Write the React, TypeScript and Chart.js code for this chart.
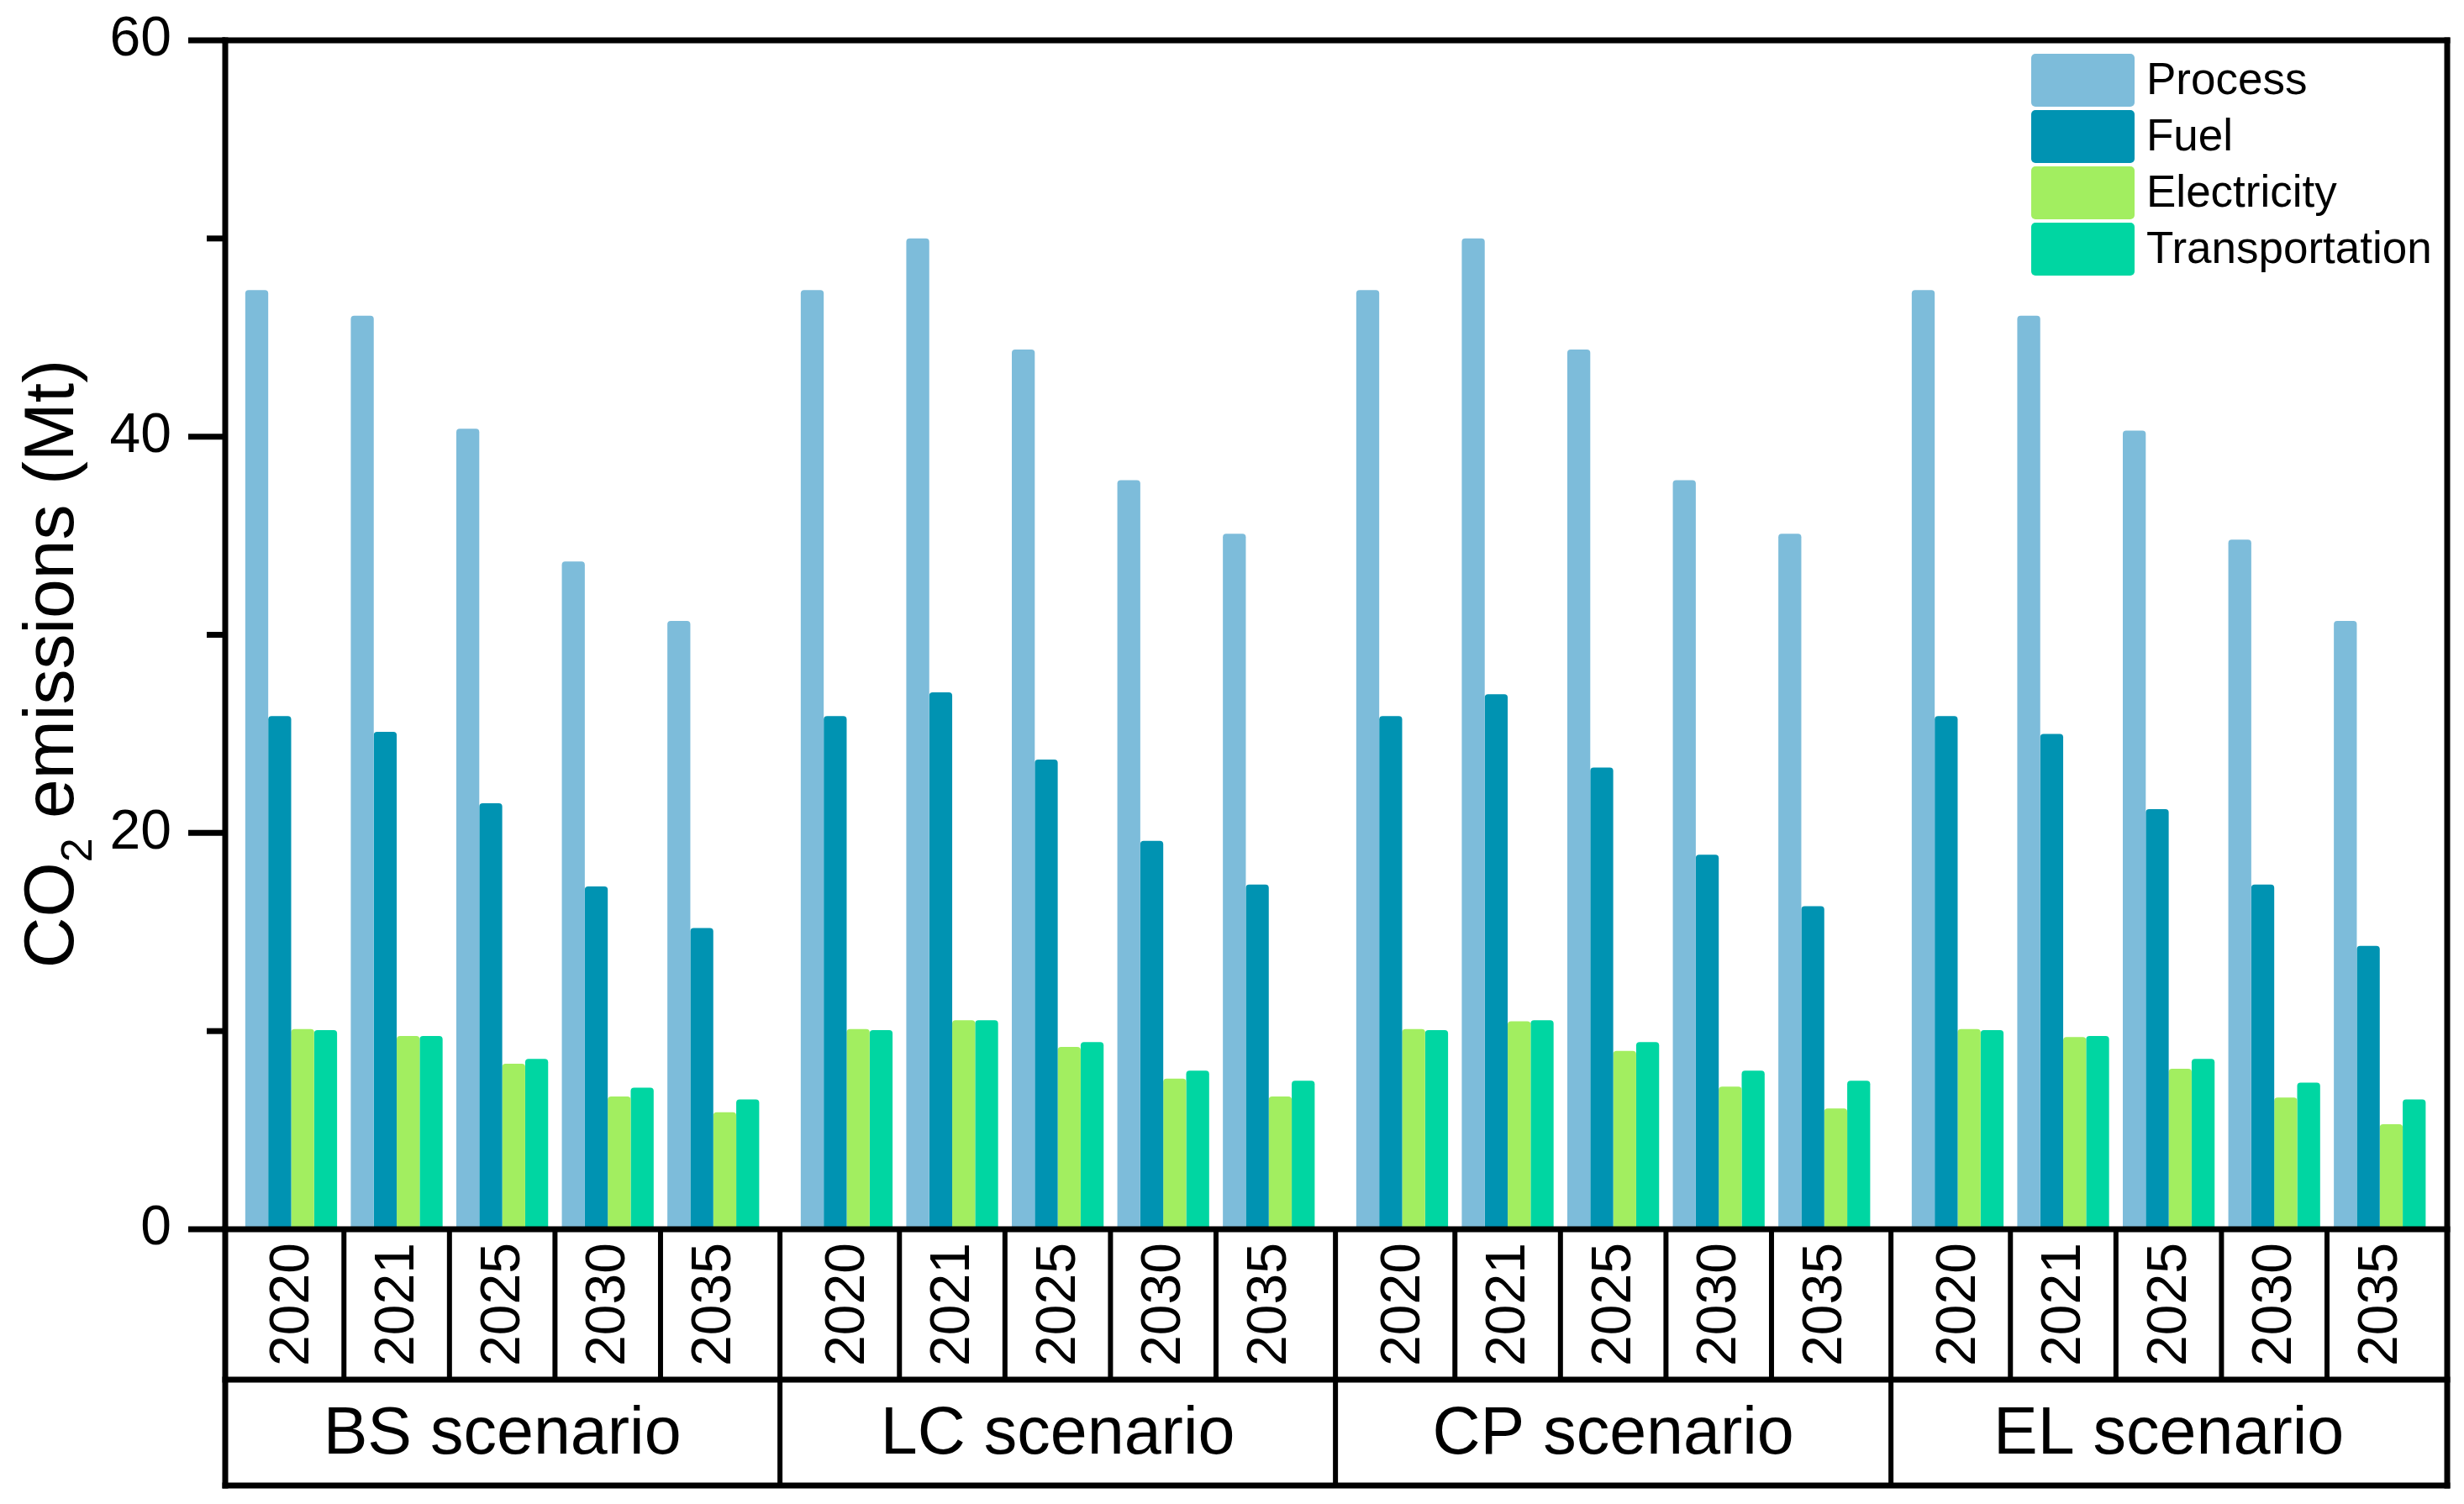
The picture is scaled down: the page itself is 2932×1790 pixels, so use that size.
import React, { useEffect, useRef } from 'react';
import { Chart, registerables } from 'chart.js';

Chart.register(...registerables);

// ---------- data ----------
const years = ['2020', '2021', '2025', '2030', '2035'];
const scenarios = ['BS scenario', 'LC scenario', 'CP scenario', 'EL scenario'];
const seriesNames = ['Process', 'Fuel', 'Electricity', 'Transportation'];
const seriesColors = ['#7DBCDA', '#0093B2', '#A2EE60', '#00D6A2'];

// values per series, ordered BS(5) | LC(5) | CP(5) | EL(5)
const process = [47.4, 46.1, 40.4, 33.7, 30.7, 47.4, 50.0, 44.4, 37.8, 35.1, 47.4, 50.0, 44.4, 37.8, 35.1, 47.4, 46.1, 40.3, 34.8, 30.7];
const fuel = [25.9, 25.1, 21.5, 17.3, 15.2, 25.9, 27.1, 23.7, 19.6, 17.4, 25.9, 27.0, 23.3, 18.9, 16.3, 25.9, 25.0, 21.2, 17.4, 14.3];
const electricity = [10.1, 9.75, 8.35, 6.7, 5.9, 10.1, 10.55, 9.2, 7.6, 6.7, 10.1, 10.5, 9.0, 7.2, 6.1, 10.1, 9.7, 8.1, 6.65, 5.3];
const transportation = [10.05, 9.75, 8.6, 7.15, 6.55, 10.05, 10.55, 9.45, 8.0, 7.5, 10.05, 10.55, 9.45, 8.0, 7.5, 10.05, 9.75, 8.6, 7.4, 6.55];

const yTicks = [0, 20, 40, 60];
const yMinorTicks = [10, 30, 50];
const yTitleMain = 'CO';
const yTitleSub = '2';
const yTitleRest = ' emissions (Mt)';

// ---------- layout constants ----------
const W = 2932;
const H = 1790;
const GROUP_GAP = 0.264;
const FONT = "'Liberation Sans', Arial, Helvetica, sans-serif";
const YEAR_ROW = 179;
const SCEN_ROW = 305;

const positions: number[] = scenarios.flatMap((_, g) =>
  years.map((_, j) => g * years.length + j + g * GROUP_GAP)
);
const seriesValues = [process, fuel, electricity, transportation];

const framePlugin = {
  id: 'frameTable',
  afterDraw(chart: any) {
    const { ctx, chartArea } = chart;
    const xs = chart.scales.x;
    const ys = chart.scales.y;
    const L = chartArea.left;
    const R = chartArea.right;
    const T = chartArea.top;
    const B = chartArea.bottom;
    const rowYear = B + YEAR_ROW;
    const rowEnd = B + SCEN_ROW;
    const line = (x1: number, y1: number, x2: number, y2: number) => {
      ctx.beginPath();
      ctx.moveTo(x1, y1);
      ctx.lineTo(x2, y2);
      ctx.stroke();
    };
    ctx.save();
    ctx.strokeStyle = '#000';
    ctx.fillStyle = '#000';

    // y ticks
    ctx.lineCap = 'butt';
    ctx.lineWidth = 7;
    yTicks.forEach((v) => {
      const py = ys.getPixelForValue(v);
      line(L - 44, py, L, py);
    });
    yMinorTicks.forEach((v) => {
      const py = ys.getPixelForValue(v);
      line(L - 22, py, L, py);
    });

    // dividers in the table
    ctx.lineWidth = 6;
    const px = positions.map((p) => xs.getPixelForValue(p));
    for (let i = 0; i < px.length - 1; i++) {
      const mid = (px[i] + px[i + 1]) / 2;
      const groupEnd = (i + 1) % years.length === 0;
      line(mid, B, mid, groupEnd ? rowEnd : rowYear);
    }

    // frame
    ctx.lineCap = 'square';
    ctx.lineWidth = 7;
    line(L, T, R, T);
    line(L, T, L, rowEnd);
    line(R, T, R, rowEnd);
    line(L, B, R, B);
    line(L, rowYear, R, rowYear);
    line(L, rowEnd, R, rowEnd);

    // year labels
    ctx.font = `66px ${FONT}`;
    ctx.textAlign = 'center';
    ctx.textBaseline = 'middle';
    positions.forEach((p, i) => {
      ctx.save();
      ctx.translate(px[i], B + YEAR_ROW / 2);
      ctx.rotate(-Math.PI / 2);
      ctx.fillText(years[i % years.length], 0, 2);
      ctx.restore();
    });

    // scenario labels
    ctx.font = `79px ${FONT}`;
    scenarios.forEach((s, g) => {
      const a = px[g * years.length];
      const b = px[g * years.length + years.length - 1];
      ctx.fillText(s, (a + b) / 2, rowYear + (SCEN_ROW - YEAR_ROW) / 2 + 3);
    });

    // legend
    const boxL = R - 495;
    const boxW = 123;
    const boxH = 63;
    const pitch = 67;
    ctx.textAlign = 'left';
    ctx.textBaseline = 'middle';
    ctx.font = `53px ${FONT}`;
    seriesNames.forEach((name, i) => {
      const top = T + 16 + i * pitch;
      ctx.fillStyle = seriesColors[i];
      ctx.beginPath();
      if ((ctx as any).roundRect) (ctx as any).roundRect(boxL, top, boxW, boxH, 5);
      else ctx.rect(boxL, top, boxW, boxH);
      ctx.fill();
      ctx.fillStyle = '#000';
      ctx.fillText(name, boxL + boxW + 14, top + boxH / 2 + 2);
    });

    // y title
    ctx.save();
    ctx.translate(87, 790);
    ctx.rotate(-Math.PI / 2);
    ctx.textAlign = 'left';
    ctx.textBaseline = 'alphabetic';
    const mainFont = `84px ${FONT}`;
    const subFont = `52px ${FONT}`;
    const parts = [
      { t: yTitleMain, f: mainFont, dy: 0 },
      { t: yTitleSub, f: subFont, dy: 22 },
      { t: yTitleRest, f: mainFont, dy: 0 },
    ];
    let total = 0;
    const widths = parts.map((p) => {
      ctx.font = p.f;
      const w = ctx.measureText(p.t).width;
      total += w;
      return w;
    });
    let cx = -total / 2;
    parts.forEach((p, i) => {
      ctx.font = p.f;
      ctx.fillText(p.t, cx, p.dy);
      cx += widths[i];
    });
    ctx.restore();

    ctx.restore();
  },
};

export default function App() {
  const canvasRef = useRef<HTMLCanvasElement | null>(null);

  useEffect(() => {
    document.body.style.margin = '0';
    const canvas = canvasRef.current;
    if (!canvas) return;
    Chart.defaults.font.family = FONT;
    const lastCenter = positions[positions.length - 1];
    const chart = new Chart(canvas, {
      type: 'bar',
      data: {
        datasets: seriesNames.map((name, s) => ({
          label: name,
          data: seriesValues[s].map((v, i) => ({ x: positions[i], y: v })),
          backgroundColor: seriesColors[s],
          borderWidth: 0,
          borderRadius: 4,
          borderSkipped: 'start',
          categoryPercentage: 0.87,
          barPercentage: 1.0,
        })),
      },
      options: {
        animation: false,
        responsive: false,
        devicePixelRatio: 1,
        layout: { padding: { top: 48, right: 20, bottom: 27, left: 0 } },
        plugins: {
          legend: { display: false },
          tooltip: { enabled: false },
          title: { display: false },
        },
        scales: {
          x: {
            type: 'linear',
            offset: false,
            min: -0.625,
            max: lastCenter + 0.639,
            grid: { display: false, drawTicks: false },
            border: { display: false },
            ticks: { display: false },
            afterBuildTicks: (scale: any) => {
              scale.ticks = positions.map((v) => ({ value: v }));
            },
            afterFit: (scale: any) => {
              scale.height = 300;
              scale.paddingLeft = 0;
              scale.paddingRight = 0;
            },
          },
          y: {
            type: 'linear',
            min: 0,
            max: 60,
            grid: { display: false, drawTicks: false },
            border: { display: false },
            ticks: {
              stepSize: 20,
              color: '#000',
              padding: 64,
              font: { size: 66, family: FONT },
              callback: (v: any) => (yTicks.includes(Number(v)) ? String(v) : ''),
            },
            afterFit: (scale: any) => {
              scale.width = 268;
              scale.paddingTop = 0;
              scale.paddingBottom = 0;
            },
          },
        },
      } as any,
      plugins: [framePlugin],
    });
    return () => chart.destroy();
  }, []);

  return (
    <div style={{ width: W, height: H, position: 'relative', background: '#fff' }}>
      <canvas ref={canvasRef} width={W} height={H} style={{ display: 'block', width: W, height: H }} />
    </div>
  );
}
